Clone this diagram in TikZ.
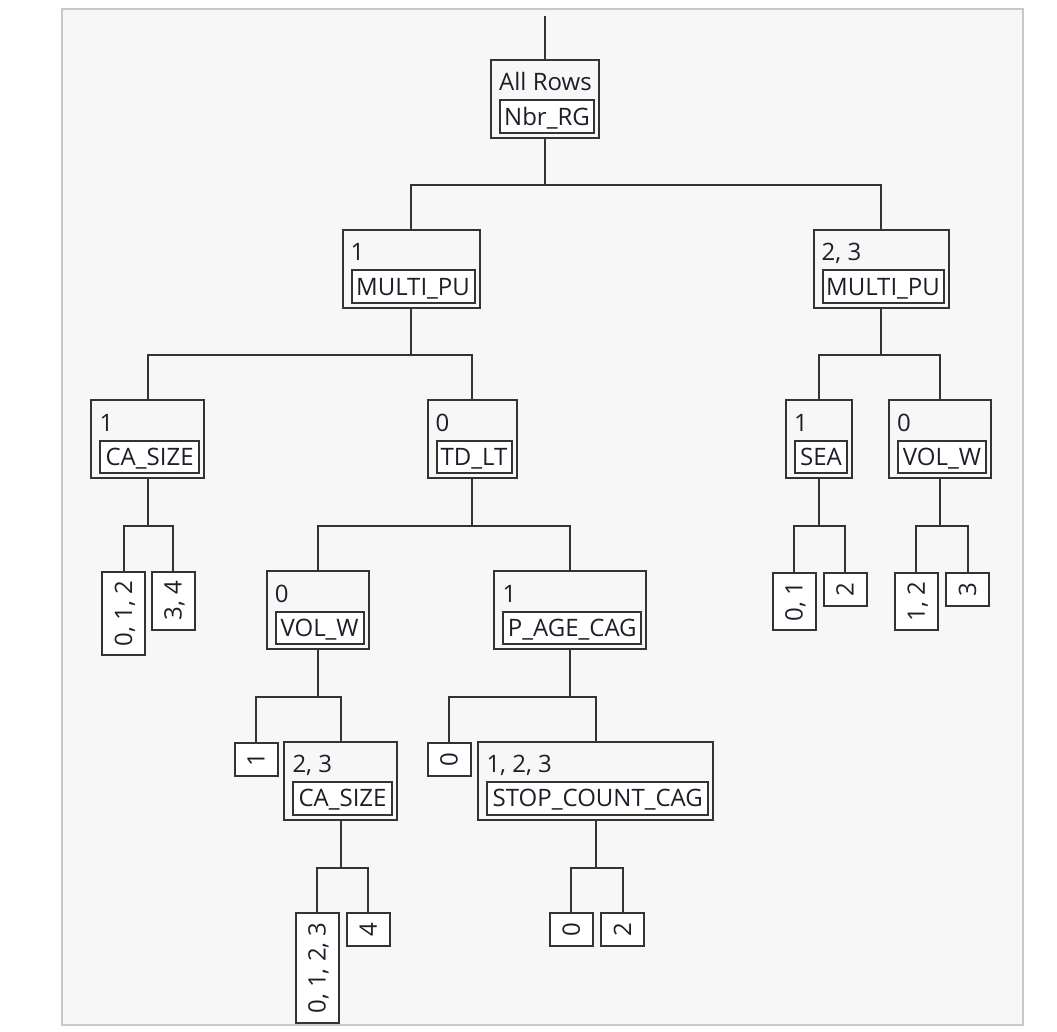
\documentclass[tikz,border=0pt]{standalone}
\usepackage{fontspec}
\setmainfont{Open Sans}
\usepackage{tikz}
\usetikzlibrary{positioning}
\definecolor{frameline}{HTML}{C8C8C8}
\definecolor{panel}{HTML}{F7F7F7}
\definecolor{ink}{HTML}{333333}
\definecolor{txt}{HTML}{1E1E2A}

\begin{document}
\begin{tikzpicture}[x=1pt,y=-1pt,
	every node/.style={font=\fontsize{24}{28}\selectfont,text=txt},
	split/.style={draw=ink,line width=2pt,minimum height=78pt,inner sep=0pt},
	splitlab/.style={inner sep=0pt,anchor=base west,xshift=9pt,yshift=-32pt},
	varbox/.style={draw=ink,line width=2pt,fill=white,minimum height=32.5pt,inner sep=0pt,text height=17pt,text depth=0pt,anchor=south west,xshift=9pt,yshift=5pt},
	leaf/.style={draw=ink,line width=2pt,fill=white,rotate=90,minimum width=33pt,minimum height=43pt,inner xsep=9pt,inner ysep=0pt,text height=17pt,text depth=0pt,anchor=east},
	edge/.style={draw=ink,line width=2pt}]
				\useasboundingbox (0,0) rectangle (1057,1032);
				\draw[frameline,line width=2pt,fill=panel] (62,9) rectangle (1023,1025);
				\node[split,minimum width=108pt] (allrows) at (545,99) {};
				\node[splitlab] (allrowsl) at (allrows.north west) {All Rows};
				\node[varbox,minimum width=94pt] (allrowsv) at (allrows.south west) {Nbr\_RG};
				\node[split,minimum width=137pt] (multi1) at (411,269) {};
				\node[splitlab] (multi1l) at (multi1.north west) {1};
				\node[varbox,minimum width=123pt] (multi1v) at (multi1.south west) {MULTI\_PU};
				\node[split,minimum width=135pt] (multi2) at (881,269) {};
				\node[splitlab] (multi2l) at (multi2.north west) {2, 3};
				\node[varbox,minimum width=121pt] (multi2v) at (multi2.south west) {MULTI\_PU};
				\node[split,minimum width=112.5pt] (casize1) at (147.6,439) {};
				\node[splitlab] (casize1l) at (casize1.north west) {1};
				\node[varbox,minimum width=98.5pt] (casize1v) at (casize1.south west) {CA\_SIZE};
				\node[split,minimum width=89pt] (tdlt) at (472,439) {};
				\node[splitlab] (tdltl) at (tdlt.north west) {0};
				\node[varbox,minimum width=75pt] (tdltv) at (tdlt.south west) {TD\_LT};
				\node[split,minimum width=66pt] (sea) at (819,439) {};
				\node[splitlab] (seal) at (sea.north west) {1};
				\node[varbox,minimum width=52pt] (seav) at (sea.south west) {SEA};
				\node[split,minimum width=102pt] (volw2) at (940,439) {};
				\node[splitlab] (volw2l) at (volw2.north west) {0};
				\node[varbox,minimum width=88pt] (volw2v) at (volw2.south west) {VOL\_W};
				\node[split,minimum width=102pt] (volw1) at (317.6,610) {};
				\node[splitlab] (volw1l) at (volw1.north west) {0};
				\node[varbox,minimum width=88pt] (volw1v) at (volw1.south west) {VOL\_W};
				\node[split,minimum width=152pt] (pagecag) at (570.3,610) {};
				\node[splitlab] (pagecagl) at (pagecag.north west) {1};
				\node[varbox,minimum width=138pt] (pagecagv) at (pagecag.south west) {P\_AGE\_CAG};
				\node[split,minimum width=112.4pt] (casize2) at (340.5,780.7) {};
				\node[splitlab] (casize2l) at (casize2.north west) {2, 3};
				\node[varbox,minimum width=98.4pt] (casize2v) at (casize2.south west) {CA\_SIZE};
				\node[split,minimum width=235pt] (stopcnt) at (595.8,780.7) {};
				\node[splitlab] (stopcntl) at (stopcnt.north west) {1, 2, 3};
				\node[varbox,minimum width=221pt] (stopcntv) at (stopcnt.south west) {STOP\_COUNT\_CAG};
				\node[leaf] (leafa) at (123.5,571) {0, 1, 2};
				\node[leaf] (leafb) at (173.2,571) {3, 4};
				\node[leaf] (leafc) at (256.2,741.7) {1};
				\node[leaf] (leafd) at (317,912.3) {0, 1, 2, 3};
				\node[leaf] (leafe) at (368.3,912.3) {4};
				\node[leaf] (leaff) at (449.2,741.7) {0};
				\node[leaf] (leafg) at (571.3,912.3) {0};
				\node[leaf] (leafh) at (622.5,912.3) {2};
				\node[leaf] (leafi) at (794,571.7) {0, 1};
				\node[leaf] (leafj) at (845,571.7) {2};
				\node[leaf] (leafk) at (916.3,571.7) {1, 2};
				\node[leaf] (leafl) at (967.7,571.7) {3};
				\coordinate (in) at (545,16);
				\draw[edge] (in) -- (allrows.north);
				\draw[edge] (allrows.south) -- ++(0,46) -| (multi1.north);
				\draw[edge] (allrows.south) -- ++(0,46) -| (multi2.north);
				\draw[edge] (multi1.south) -- ++(0,46) -| (casize1.north);
				\draw[edge] (multi1.south) -- ++(0,46) -| (tdlt.north);
				\draw[edge] (multi2.south) -- ++(0,46) -| (sea.north);
				\draw[edge] (multi2.south) -- ++(0,46) -| (volw2.north);
				\draw[edge] (casize1.south) -- ++(0,47) -| (leafa.east);
				\draw[edge] (casize1.south) -- ++(0,47) -| (leafb.east);
				\draw[edge] (tdlt.south) -- ++(0,47) -| (volw1.north);
				\draw[edge] (tdlt.south) -- ++(0,47) -| (pagecag.north);
				\draw[edge] (sea.south) -- ++(0,47) -| (leafi.east);
				\draw[edge] (sea.south) -- ++(0,47) -| (leafj.east);
				\draw[edge] (volw2.south) -- ++(0,47) -| (leafk.east);
				\draw[edge] (volw2.south) -- ++(0,47) -| (leafl.east);
				\draw[edge] (volw1.south) -- ++(0,47) -| (leafc.east);
				\draw[edge] (volw1.south) -- ++(0,47) -| (casize2.north);
				\draw[edge] (pagecag.south) -- ++(0,47) -| (leaff.east);
				\draw[edge] (pagecag.south) -- ++(0,47) -| (stopcnt.north);
				\draw[edge] (casize2.south) -- ++(0,47) -| (leafd.east);
				\draw[edge] (casize2.south) -- ++(0,47) -| (leafe.east);
				\draw[edge] (stopcnt.south) -- ++(0,47) -| (leafg.east);
				\draw[edge] (stopcnt.south) -- ++(0,47) -| (leafh.east);
			\end{tikzpicture}
\end{document}
